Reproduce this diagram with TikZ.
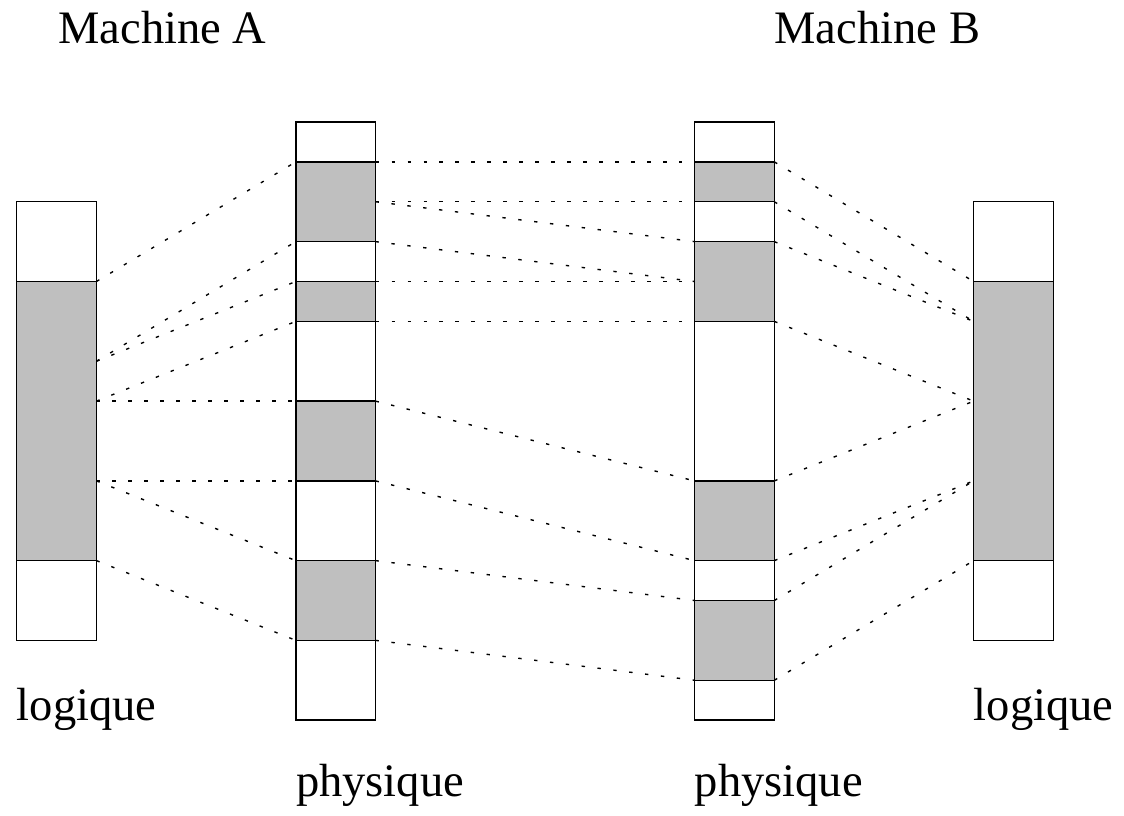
\documentclass[tikz,border=0pt]{standalone}
\usepackage{fontspec}
\setmainfont{Liberation Serif}
\usepackage{xcolor}
\usetikzlibrary{positioning,calc}
\definecolor{cellgray}{gray}{0.75}
\tikzset{
	cell/.style={draw, line width=1pt, minimum width=2cm, minimum height={#1*1cm}, inner sep=0pt, outer sep=0pt, anchor=north west},
	lien/.style={line width=1pt, dash pattern=on 2.4pt off 9pt},
	legende/.style={anchor=base west, inner sep=0pt, font=\fontsize{33.2}{40}\selectfont}
}

\begin{document}
\begin{tikzpicture}[x=1cm,y=-1cm]
	\useasboundingbox (-0.419,-3.06) rectangle (27.77,17.38);
	% colonnes
	\foreach \t/\h/\c [count=\i] in {2/2/white,4/7/cellgray,11/2/white}
		\node[cell=\h, fill=\c] (L\i) at (0,\t) {};
	\foreach \t/\h/\c [count=\i] in {0/1/white,1/2/cellgray,3/1/white,4/1/cellgray,5/2/white,7/2/cellgray,9/2/white,11/2/cellgray,13/2/white}
		\node[cell=\h, fill=\c] (A\i) at (7,\t) {};
	\foreach \t/\h/\c [count=\i] in {0/1/white,1/1/cellgray,2/1/white,3/2/cellgray,5/4/white,9/2/cellgray,11/1/white,12/2/cellgray,14/1/white}
		\node[cell=\h, fill=\c] (B\i) at (17,\t) {};
	\foreach \t/\h/\c [count=\i] in {2/2/white,4/7/cellgray,11/2/white}
		\node[cell=\h, fill=\c] (R\i) at (24,\t) {};
	% points d'attache
	\foreach \y in {0,...,15} {
		\coordinate (Le\y) at (2,\y);
		\coordinate (Aw\y) at (7,\y);
		\coordinate (Ae\y) at (9,\y);
		\coordinate (Bw\y) at (17,\y);
		\coordinate (Be\y) at (19,\y);
		\coordinate (Rw\y) at (24,\y);
	}
	% liens
	\foreach \a/\b in {4/1,6/3,6/4,7/5,7/7,9/9,9/11,11/13}
		\draw[lien] (Le\a) -- (Aw\b);
	\foreach \a/\b in {1/1,2/2,2/3,3/4,4/4,5/5,7/9,9/11,11/12,13/14}
		\draw[lien] (Ae\a) -- (Bw\b);
	\foreach \a/\b in {1/4,2/5,3/5,5/7,9/7,11/9,12/9,14/11}
		\draw[lien] (Be\a) -- (Rw\b);
	% textes
	\node[legende] (machA) at (1.04,-1.98) {Machine A};
	\node[legende] (machB) at (19,-1.98) {Machine B};
	\node[legende] (logA) at (0,15) {logique};
	\node[legende] (logB) at (24,15) {logique};
	\node[legende] (physA) at (7,16.92) {physique};
	\node[legende] (physB) at (17,16.92) {physique};
\end{tikzpicture}
\end{document}
